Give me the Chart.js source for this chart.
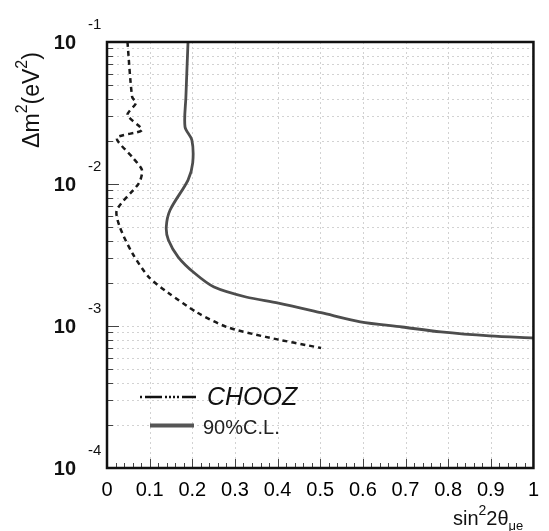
<!DOCTYPE html>
<html><head><meta charset="utf-8">
<script src="https://cdn.jsdelivr.net/npm/chart.js@4"></script>
<style>html,body{margin:0;padding:0;background:#fff}#wrap{width:549px;height:531px;position:relative}</style>
</head><body><div id="wrap"><canvas id="c" width="549" height="531"></canvas></div>
<script>
// 90% C.L. contour (solid)
const clX = [0.190, 0.185, 0.183, 0.199, 0.201, 0.190, 0.148, 0.139, 0.144, 0.167, 0.205, 0.251, 0.326, 0.402, 0.502, 0.594, 0.692, 0.783, 0.897, 1.0];
const clY = [0.1, 0.0410, 0.0252, 0.0204, 0.01406, 0.01066, 0.00656, 0.00498, 0.00403, 0.00306, 0.00236, 0.00188, 0.00160, 0.00145, 0.00124, 0.00107, 0.000984, 0.000908, 0.000851, 0.000823];
// CHOOZ contour (dashed)
const choozX = [0.048, 0.059, 0.068, 0.048, 0.082, 0.023, 0.059, 0.082, 0.075, 0.023, 0.030, 0.059, 0.098, 0.144, 0.212, 0.281, 0.372, 0.502];
const choozY = [0.1, 0.0410, 0.0372, 0.0306, 0.0240, 0.0211, 0.0155, 0.01256, 0.01016, 0.00656, 0.00498, 0.00327, 0.00221, 0.00171, 0.00124, 0.000984, 0.000838, 0.000700];

const xTickValues = [0, 0.1, 0.2, 0.3, 0.4, 0.5, 0.6, 0.7, 0.8, 0.9, 1];
const xTickLabels = ['0', '0.1', '0.2', '0.3', '0.4', '0.5', '0.6', '0.7', '0.8', '0.9', '1'];
const yDecades = [1e-1, 1e-2, 1e-3, 1e-4];
const yBaseLabels = ['10', '10', '10', '10'];
const yExpLabels = ['-1', '-2', '-3', '-4'];
const legendLabels = ['CHOOZ', '90%C.L.'];

const toPts = (xs, ys) => xs.map((x, i) => ({x: x, y: ys[i]}));

const decor = {
  id: 'decor',
  beforeDatasetsDraw(chart) {
    const {ctx, chartArea: a, scales: {x, y}} = chart;
    ctx.save();
    ctx.strokeStyle = '#d2d2d2';
    ctx.lineWidth = 1;
    ctx.setLineDash([2, 3]);
    xTickValues.forEach(v => {
      const px = Math.round(x.getPixelForValue(v)) + 0.5;
      ctx.beginPath(); ctx.moveTo(px, a.top); ctx.lineTo(px, a.bottom); ctx.stroke();
    });
    for (let e = -4; e < -1 + 1e-9; e++) {
      for (let k = 1; k <= 9; k++) {
        const v = k * Math.pow(10, e);
        if (v > 0.1 * 1.0001) break;
        const py = Math.round(y.getPixelForValue(v)) + 0.5;
        ctx.beginPath(); ctx.moveTo(a.left, py); ctx.lineTo(a.right, py); ctx.stroke();
      }
    }
    ctx.setLineDash([]);
    ctx.strokeStyle = '#444';
    ctx.lineWidth = 1;
    for (let i = 0; i <= 50; i++) {
      const px = Math.round(x.getPixelForValue(i * 0.02)) + 0.5;
      const len = (i % 5 === 0) ? 9 : 5;
      ctx.beginPath(); ctx.moveTo(px, a.bottom); ctx.lineTo(px, a.bottom - len); ctx.stroke();
    }
    for (let e = -4; e <= -1; e++) {
      for (let k = 1; k <= 9; k++) {
        const v = k * Math.pow(10, e);
        if (v > 0.1 * 1.0001) break;
        const py = Math.round(y.getPixelForValue(v)) + 0.5;
        const len = (k === 1) ? 12 : 6;
        ctx.beginPath(); ctx.moveTo(a.left, py); ctx.lineTo(a.left + len, py); ctx.stroke();
      }
    }
    ctx.restore();
  },
  afterDraw(chart) {
    const {ctx, chartArea: a, scales: {x, y}} = chart;
    ctx.save();
    ctx.strokeStyle = '#111';
    ctx.lineWidth = 2.5;
    ctx.strokeRect(a.left, a.top, a.right - a.left, a.bottom - a.top);
    ctx.fillStyle = '#111';
    yDecades.forEach((v, i) => {
      const py = y.getPixelForValue(v);
      ctx.font = 'bold 20px "Liberation Sans", Arial, sans-serif';
      ctx.textAlign = 'right'; ctx.textBaseline = 'middle';
      ctx.fillText(yBaseLabels[i], 76, py + 1);
      ctx.font = '15px "Liberation Sans", Arial, sans-serif';
      ctx.textAlign = 'left';
      ctx.fillText(yExpLabels[i], 88, py - 17);
    });
    ctx.save();
    ctx.translate(39, 100);
    ctx.rotate(-Math.PI / 2);
    const big = '23px "Liberation Sans", Arial, sans-serif';
    const sup = '16px "Liberation Sans", Arial, sans-serif';
    const parts = [['\u0394m', big, 0], ['2', sup, -12], ['(eV', big, 0], ['2', sup, -12], [')', big, 0]];
    let tot = 0;
    parts.forEach(p => { ctx.font = p[1]; tot += ctx.measureText(p[0]).width; });
    let cx = -tot / 2;
    ctx.textAlign = 'left'; ctx.textBaseline = 'alphabetic';
    parts.forEach(p => { ctx.font = p[1]; ctx.fillText(p[0], cx, p[2]); cx += ctx.measureText(p[0]).width; });
    ctx.restore();
    const xparts = [['sin', '20px "Liberation Sans", Arial, sans-serif', 0], ['2', '14px "Liberation Sans", Arial, sans-serif', -10], ['2\u03b8', '20px "Liberation Sans", Arial, sans-serif', 0], ['\u03bce', '13px "Liberation Sans", Arial, sans-serif', 5]];
    let xx = 453;
    ctx.textAlign = 'left'; ctx.textBaseline = 'alphabetic';
    xparts.forEach(p => { ctx.font = p[1]; ctx.fillText(p[0], xx, 525 + p[2]); xx += ctx.measureText(p[0]).width; });
    ctx.strokeStyle = '#111';
    ctx.lineWidth = 2.5;
    ctx.setLineDash([2, 3, 17, 3, 2, 2, 2, 2, 2, 2, 2, 3, 14, 200]);
    ctx.beginPath(); ctx.moveTo(140, 397); ctx.lineTo(198, 397); ctx.stroke();
    ctx.setLineDash([]);
    ctx.font = 'italic 25px "Liberation Sans", Arial, sans-serif';
    ctx.textAlign = 'left'; ctx.textBaseline = 'middle';
    ctx.fillText(legendLabels[0], 207, 398);
    ctx.strokeStyle = '#555';
    ctx.lineWidth = 4;
    ctx.beginPath(); ctx.moveTo(150, 425.5); ctx.lineTo(194, 425.5); ctx.stroke();
    ctx.font = '20px "Liberation Sans", Arial, sans-serif';
    ctx.fillStyle = '#222';
    ctx.fillText(legendLabels[1], 203, 428);
    ctx.restore();
  }
};

new Chart(document.getElementById('c'), {
  type: 'scatter',
  data: {
    datasets: [
      {label: legendLabels[0], data: toPts(choozX, choozY), showLine: true, borderColor: '#1a1a1a', borderWidth: 2.5, borderDash: [5, 4], pointRadius: 0, tension: 0.25, fill: false},
      {label: legendLabels[1], data: toPts(clX, clY), showLine: true, borderColor: '#4d4d4d', borderWidth: 2.8, pointRadius: 0, tension: 0.3, fill: false}
    ]
  },
  options: {
    responsive: false,
    animation: false,
    layout: {padding: {top: 42, right: 4, left: 0, bottom: 0}},
    plugins: {legend: {display: false}, tooltip: {enabled: false}},
    scales: {
      x: {
        type: 'linear', min: 0, max: 1,
        afterBuildTicks: s => { s.ticks = xTickValues.map(v => ({value: v})); },
        afterFit: s => { s.height = 63; },
        grid: {display: false, drawTicks: false},
        border: {display: false},
        ticks: {
          padding: 10, color: '#000', maxRotation: 0, autoSkip: false,
          font: {family: '"Liberation Sans", Arial, sans-serif', size: 20},
          callback: (v, i) => xTickLabels[i]
        }
      },
      y: {
        type: 'logarithmic', min: 1e-4, max: 1e-1,
        afterFit: s => { s.width = 107; },
        grid: {display: false, drawTicks: false},
        border: {display: false},
        ticks: {display: false}
      }
    }
  },
  plugins: [decor]
});
</script>
</body></html>
